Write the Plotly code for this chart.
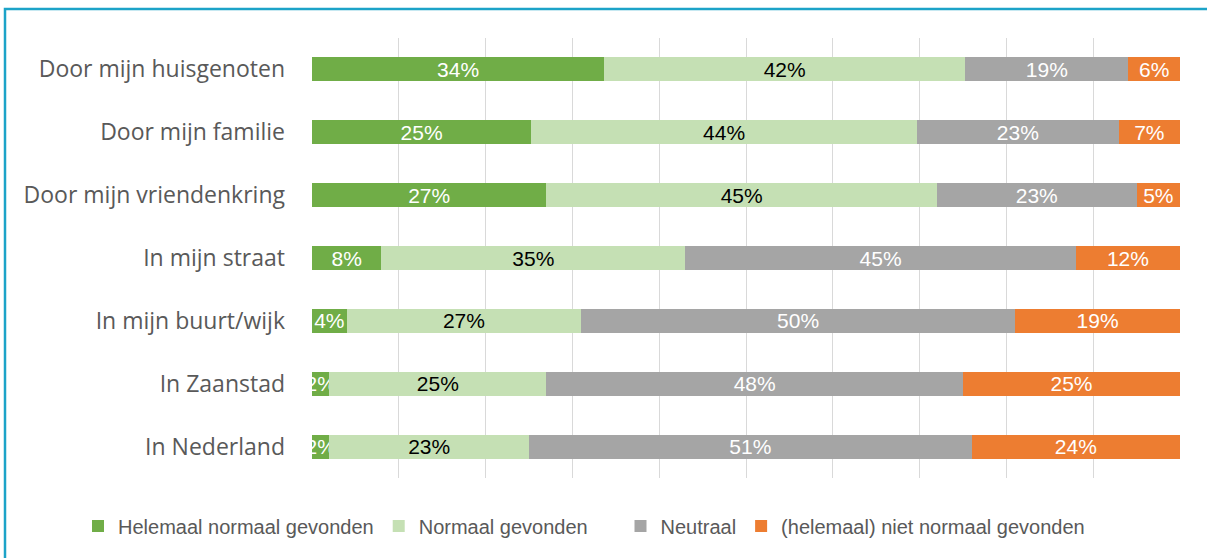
import plotly.graph_objects as go

categories = ["Door mijn huisgenoten", "Door mijn familie", "Door mijn vriendenkring",
              "In mijn straat", "In mijn buurt/wijk", "In Zaanstad", "In Nederland"]
series_names = ["Helemaal normaal gevonden", "Normaal gevonden\u00a0\u00a0\u00a0\u00a0\u00a0", "Neutraal",
                "(helemaal) niet normaal gevonden"]
helemaal = [34, 25, 27, 8, 4, 2, 2]
normaal = [42, 44, 45, 35, 27, 25, 23]
neutraal = [19, 23, 23, 45, 50, 48, 51]
niet_normaal = [6, 7, 5, 12, 19, 25, 24]

series_values = [helemaal, normaal, neutraal, niet_normaal]
colors = ["#70ad47", "#c5e0b4", "#a5a5a5", "#ed7d31"]
text_colors = ["white", "black", "white", "white"]

fig = go.Figure()
for name, vals, col, tcol in zip(series_names, series_values, colors, text_colors):
    fig.add_trace(go.Bar(
        y=categories, x=vals, name=name, orientation="h",
        marker=dict(color=col, line=dict(width=0)),
        text=vals, texttemplate="%{text}%",
        textposition="inside", insidetextanchor="middle",
        textangle=0, constraintext="none",
        textfont=dict(family="Liberation Sans, Arial", size=21, color=tcol),
    ))

W, H = 1207, 558
ml, mr, mt, mb = 312, 27, 38, 80
pw, ph = W - ml - mr, H - mt - mb

def px_x(p):
    return (p - ml) / pw

def px_y(p):
    return 1 - (p - mt) / ph

fig.update_layout(
    width=W, height=H,
    margin=dict(l=ml, r=mr, t=mt, b=mb, pad=0),
    barmode="stack", barnorm="percent", bargap=0.62,
    paper_bgcolor="white", plot_bgcolor="white",
    uniformtext=dict(minsize=21, mode="show"),
    xaxis=dict(range=[0, 100], dtick=10, showticklabels=False, showgrid=True,
               gridcolor="#d9d9d9", gridwidth=1.3, zeroline=False, showline=False,
               fixedrange=True),
    yaxis=dict(autorange="reversed", showgrid=False, zeroline=False, showline=False,
               ticklabelstandoff=26,
               tickfont=dict(family="Open Sans", size=23, color="#595959")),
    legend=dict(orientation="h", x=px_x(78), xanchor="left", y=px_y(526), yanchor="middle",
                font=dict(family="Liberation Sans, Arial", size=20, color="#595959"),
                traceorder="normal", bgcolor="rgba(0,0,0,0)"),
    showlegend=True,
    shapes=[dict(type="rect", xref="paper", yref="paper",
                 x0=px_x(5), x1=px_x(1215), y0=px_y(566), y1=px_y(9),
                 line=dict(color="#1ca3c8", width=2.5), fillcolor="rgba(0,0,0,0)",
                 layer="above")],
)

fig.write_html("out.html", config={"displayModeBar": False},
               post_script="document.body.style.margin='0';document.body.style.overflow='hidden';")
